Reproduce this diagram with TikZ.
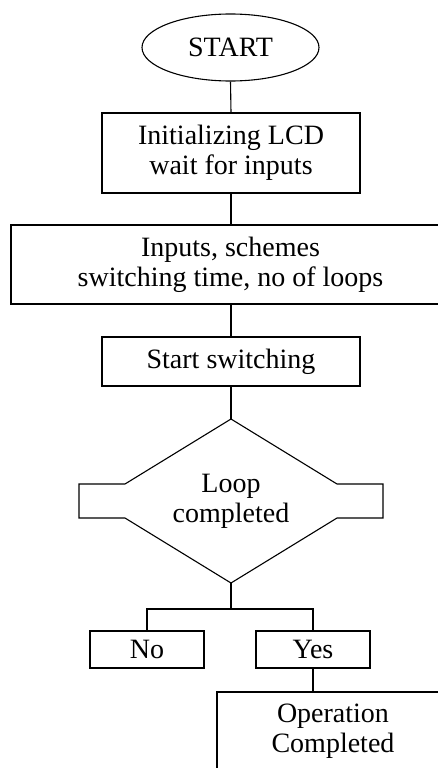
\documentclass[tikz,border=0pt]{standalone}
\usepackage{fontspec}
\setmainfont{Liberation Serif}
\usetikzlibrary{shapes.geometric}
\begin{document}
\begin{tikzpicture}[x=1pt,y=-1pt,line width=1.1pt,
  txt/.style={font=\fontsize{28}{30}\selectfont,align=center,inner sep=0pt},
  boxn/.style={txt,draw,rectangle},
  oval/.style={txt,draw,ellipse}]
\useasboundingbox (0,0) rectangle (438,768);
\clip (0,0) rectangle (438,768);
\node[oval,minimum width=177pt,minimum height=67pt] (start) at (230.5,47.5) {START};
\node[boxn,minimum width=258pt,minimum height=80pt] (init) at (231,153) {Initializing LCD\\wait for inputs};
\node[boxn,minimum width=439pt,minimum height=79pt] (inp) at (230.5,264.5) {Inputs, schemes\\switching time, no of loops};
\node[boxn,minimum width=258pt,minimum height=49pt] (sw) at (231,361.5) {Start switching};
% decision
\coordinate (dtop) at (231,419);
\coordinate (dbot) at (231,583);
\draw (dtop) -- (125,484) -- (79,484) -- (79,518) -- (125,518) -- (dbot)
  -- (337,518) -- (383,518) -- (383,484) -- (337,484) -- cycle;
\node[txt] (dec) at (231,501) {Loop\\completed};
\node[boxn,minimum width=114pt,minimum height=37pt] (no) at (147,649.5) {No};
\node[boxn,minimum width=114pt,minimum height=37pt] (yes) at (313,649.5) {Yes};
\node[boxn,minimum width=232pt,minimum height=78pt] (op) at (333,731) {Operation\\Completed};
\coordinate (split) at (231,609);
\draw (start.south) -- (init.north);
\draw (init.south) -- (inp.north -| init.south);
\draw (inp.south -| init.south) -- (sw.north);
\draw (sw.south) -- (dtop);
\draw (dbot) -- (split);
\draw (no.north) |- (split) -| (yes.north);
\draw (yes.south) -- (yes.south |- op.north);
\end{tikzpicture}
\end{document}
